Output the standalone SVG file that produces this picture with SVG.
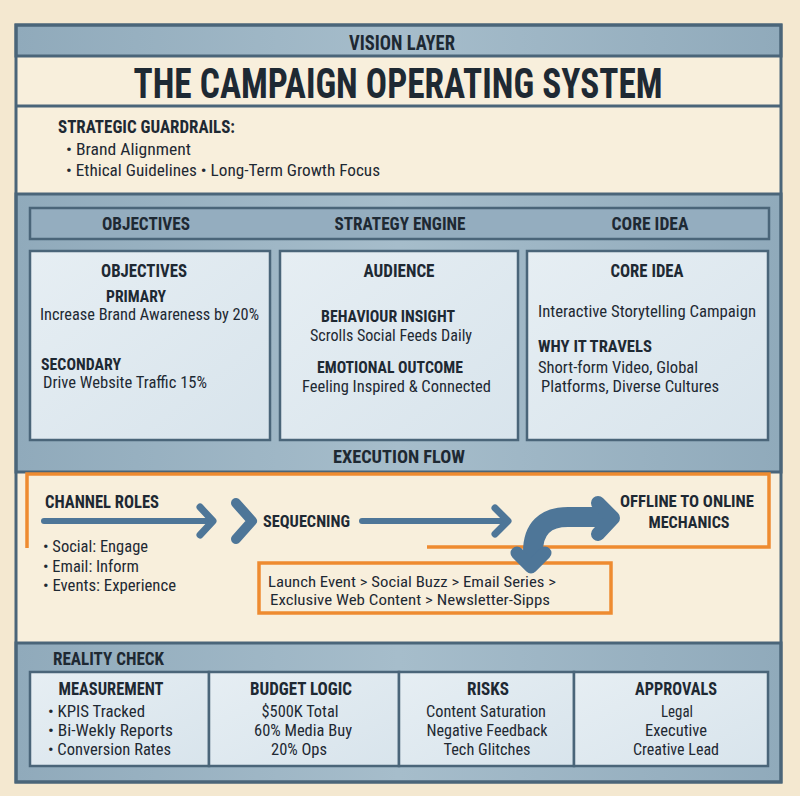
<svg xmlns="http://www.w3.org/2000/svg" width="800" height="796" viewBox="0 0 800 796">
<defs>
<linearGradient id="band" x1="0" y1="0" x2="1" y2="0">
<stop offset="0" stop-color="#90aabb"/>
<stop offset="0.5" stop-color="#a6bdcb"/>
<stop offset="1" stop-color="#90aabb"/>
</linearGradient>
<linearGradient id="panel" x1="0" y1="0" x2="1" y2="1">
<stop offset="0" stop-color="#e6eef3"/>
<stop offset="1" stop-color="#d8e4ec"/>
</linearGradient>
<style>
text{font-family:"Liberation Sans Narrow","Roboto Condensed","DejaVu Sans Condensed","DejaVu Sans",sans-serif;font-stretch:condensed;fill:#1e2933}
.h{font-weight:700}
.n{font-weight:400}
.m{text-anchor:middle}
.band{fill:url(#band);stroke:#4a6579;stroke-width:3}
.cream{fill:#f8efdc}
.line{stroke:#4a6579;stroke-width:3;fill:none}
.pnl{fill:url(#panel);stroke:#4a6579;stroke-width:2.5}
.hdr{fill:#94adbf;stroke:#4a6579;stroke-width:2.5}
.arr{stroke:#4e7698;fill:none;stroke-linecap:round;stroke-linejoin:round}
.org{stroke:#ee8b30;stroke-width:3.5;fill:none}
</style>
</defs>
<rect x="0" y="0" width="800" height="796" fill="#f4e8d0"/>

<g id="frame">
<rect x="16" y="25" width="765" height="757" class="cream"/>
<rect x="16" y="25" width="765" height="31" class="band"/>
<rect x="16" y="194" width="765" height="278" class="band"/>
<rect x="16" y="643" width="765" height="139" class="band"/>
<line x1="16" y1="106" x2="781" y2="106" class="line"/>
<rect x="16" y="25" width="765" height="757" class="line"/>
</g>

<g id="vision-layer">
<text x="402" y="50" class="h m" font-size="20" textLength="106" lengthAdjust="spacingAndGlyphs">VISION LAYER</text>
</g>

<g id="title">
<text x="398" y="98" class="h m" font-size="43" textLength="529" lengthAdjust="spacingAndGlyphs">THE CAMPAIGN OPERATING SYSTEM</text>
</g>

<g id="guardrails">
<text x="58" y="133" class="h" font-size="19" textLength="177" lengthAdjust="spacingAndGlyphs">STRATEGIC GUARDRAILS:</text>
<text x="66" y="155" class="n" font-size="16" textLength="125" lengthAdjust="spacingAndGlyphs">• Brand Alignment</text>
<text x="66" y="176" class="n" font-size="16" textLength="314" lengthAdjust="spacingAndGlyphs">• Ethical Guidelines • Long-Term Growth Focus</text>
</g>

<g id="header-row">
<rect x="30" y="208" width="739" height="31" class="hdr"/>
<text x="146" y="230" class="h m" font-size="19" textLength="88" lengthAdjust="spacingAndGlyphs">OBJECTIVES</text>
<text x="400" y="230" class="h m" font-size="19" textLength="131" lengthAdjust="spacingAndGlyphs">STRATEGY ENGINE</text>
<text x="650" y="230" class="h m" font-size="19" textLength="77" lengthAdjust="spacingAndGlyphs">CORE IDEA</text>
</g>

<g id="objectives">
<rect x="30" y="251" width="240" height="189" class="pnl"/>
<text x="144" y="277" class="h m" font-size="19" textLength="86" lengthAdjust="spacingAndGlyphs">OBJECTIVES</text>
<text x="136" y="302" class="h m" font-size="17" textLength="60" lengthAdjust="spacingAndGlyphs">PRIMARY</text>
<text x="40" y="320" class="n" font-size="16" textLength="219" lengthAdjust="spacingAndGlyphs">Increase Brand Awareness by 20%</text>
<text x="41" y="370" class="h" font-size="17" textLength="80" lengthAdjust="spacingAndGlyphs">SECONDARY</text>
<text x="43" y="388" class="n" font-size="16" textLength="164" lengthAdjust="spacingAndGlyphs">Drive Website Traffic 15%</text>
</g>

<g id="audience">
<rect x="280" y="251" width="238" height="189" class="pnl"/>
<text x="399" y="277" class="h m" font-size="19" textLength="71" lengthAdjust="spacingAndGlyphs">AUDIENCE</text>
<text x="321" y="322" class="h" font-size="17" textLength="134" lengthAdjust="spacingAndGlyphs">BEHAVIOUR INSIGHT</text>
<text x="310" y="341" class="n" font-size="16" textLength="162" lengthAdjust="spacingAndGlyphs">Scrolls Social Feeds Daily</text>
<text x="317" y="373" class="h" font-size="17" textLength="146" lengthAdjust="spacingAndGlyphs">EMOTIONAL OUTCOME</text>
<text x="302" y="392" class="n" font-size="16" textLength="189" lengthAdjust="spacingAndGlyphs">Feeling Inspired &amp; Connected</text>
</g>

<g id="core-idea">
<rect x="527" y="251" width="241" height="189" class="pnl"/>
<text x="647" y="277" class="h m" font-size="19" textLength="73" lengthAdjust="spacingAndGlyphs">CORE IDEA</text>
<text x="538" y="317" class="n" font-size="16" textLength="218" lengthAdjust="spacingAndGlyphs">Interactive Storytelling Campaign</text>
<text x="538" y="352" class="h" font-size="17" textLength="114" lengthAdjust="spacingAndGlyphs">WHY IT TRAVELS</text>
<text x="538" y="373" class="n" font-size="16" textLength="160" lengthAdjust="spacingAndGlyphs">Short-form Video, Global</text>
<text x="541" y="392" class="n" font-size="16" textLength="178" lengthAdjust="spacingAndGlyphs">Platforms, Diverse Cultures</text>
</g>

<g id="execution-flow-label">
<text x="399" y="463" class="h m" font-size="19" textLength="132" lengthAdjust="spacingAndGlyphs">EXECUTION FLOW</text>
</g>

<g id="execution-frame">
<path d="M27 548 L27 474 L769 474 L769 547 L427 547" class="org"/>
</g>

<g id="channel-roles">
<text x="45" y="508" class="h" font-size="18" textLength="114" lengthAdjust="spacingAndGlyphs">CHANNEL ROLES</text>
<text x="43" y="552" class="n" font-size="16" textLength="105" lengthAdjust="spacingAndGlyphs">• Social: Engage</text>
<text x="43" y="572" class="n" font-size="16" textLength="96" lengthAdjust="spacingAndGlyphs">• Email: Inform</text>
<text x="43" y="591" class="n" font-size="16" textLength="133" lengthAdjust="spacingAndGlyphs">• Events: Experience</text>
</g>

<g id="sequencing">
<text x="263" y="527" class="h" font-size="17" textLength="87" lengthAdjust="spacingAndGlyphs">SEQUECNING</text>
</g>

<g id="offline-online">
<text x="687" y="507" class="h m" font-size="17" textLength="134" lengthAdjust="spacingAndGlyphs">OFFLINE TO ONLINE</text>
<text x="689" y="528" class="h m" font-size="17" textLength="81" lengthAdjust="spacingAndGlyphs">MECHANICS</text>
</g>

<g id="sequence-box">
<rect x="259" y="563" width="352" height="50" class="org"/>
<text x="268" y="587" class="n" font-size="15" textLength="288" lengthAdjust="spacingAndGlyphs">Launch Event &gt; Social Buzz &gt; Email Series &gt;</text>
<text x="270" y="605" class="n" font-size="15" textLength="280" lengthAdjust="spacingAndGlyphs">Exclusive Web Content &gt; Newsletter-Sipps</text>
</g>

<g id="connectors">
<line x1="44" y1="521" x2="208" y2="521" class="arr" stroke-width="6"/>
<polyline points="200,507 213,521 200,535" class="arr" stroke-width="7"/>
<polyline points="236,503 252,521 236,539" class="arr" stroke-width="10"/>
<line x1="362" y1="521" x2="504" y2="521" class="arr" stroke-width="6"/>
<polyline points="495,508 508,521 495,534" class="arr" stroke-width="7"/>
<path d="M533 552 C533 529 545 517 568 517 L602 517" class="arr" stroke-width="20" stroke-linecap="butt"/>
<polyline points="598,503 613,518 598,534" class="arr" stroke-width="14"/>
<polyline points="517,553 531,567 545,553" class="arr" stroke-width="13"/>
</g>

<g id="reality-check">
<text x="53" y="665" class="h" font-size="18" textLength="111" lengthAdjust="spacingAndGlyphs">REALITY CHECK</text>
</g>

<g id="measurement">
<rect x="30" y="672" width="179" height="94" class="pnl"/>
<text x="111" y="695" class="h m" font-size="18" textLength="105" lengthAdjust="spacingAndGlyphs">MEASUREMENT</text>
<text x="48" y="717" class="n" font-size="16" textLength="97" lengthAdjust="spacingAndGlyphs">• KPIS Tracked</text>
<text x="48" y="736" class="n" font-size="16" textLength="125" lengthAdjust="spacingAndGlyphs">• Bi-Wekly Reports</text>
<text x="48" y="755" class="n" font-size="16" textLength="123" lengthAdjust="spacingAndGlyphs">• Conversion Rates</text>
</g>

<g id="budget-logic">
<rect x="209" y="672" width="190" height="94" class="pnl"/>
<text x="301" y="695" class="h m" font-size="18" textLength="102" lengthAdjust="spacingAndGlyphs">BUDGET LOGIC</text>
<text x="300" y="717" class="n m" font-size="16" textLength="77" lengthAdjust="spacingAndGlyphs">$500K Total</text>
<text x="303" y="736" class="n m" font-size="16" textLength="98" lengthAdjust="spacingAndGlyphs">60% Media Buy</text>
<text x="299" y="755" class="n m" font-size="16" textLength="56" lengthAdjust="spacingAndGlyphs">20% Ops</text>
</g>

<g id="risks">
<rect x="399" y="672" width="175" height="94" class="pnl"/>
<text x="488" y="695" class="h m" font-size="18" textLength="42" lengthAdjust="spacingAndGlyphs">RISKS</text>
<text x="486" y="717" class="n m" font-size="16" textLength="120" lengthAdjust="spacingAndGlyphs">Content Saturation</text>
<text x="487" y="736" class="n m" font-size="16" textLength="121" lengthAdjust="spacingAndGlyphs">Negative Feedback</text>
<text x="487" y="755" class="n m" font-size="16" textLength="87" lengthAdjust="spacingAndGlyphs">Tech Glitches</text>
</g>

<g id="approvals">
<rect x="574" y="672" width="194" height="94" class="pnl"/>
<text x="676" y="695" class="h m" font-size="18" textLength="82" lengthAdjust="spacingAndGlyphs">APPROVALS</text>
<text x="677" y="717" class="n m" font-size="16" textLength="32" lengthAdjust="spacingAndGlyphs">Legal</text>
<text x="676" y="736" class="n m" font-size="16" textLength="62" lengthAdjust="spacingAndGlyphs">Executive</text>
<text x="676" y="755" class="n m" font-size="16" textLength="86" lengthAdjust="spacingAndGlyphs">Creative Lead</text>
</g>
</svg>
